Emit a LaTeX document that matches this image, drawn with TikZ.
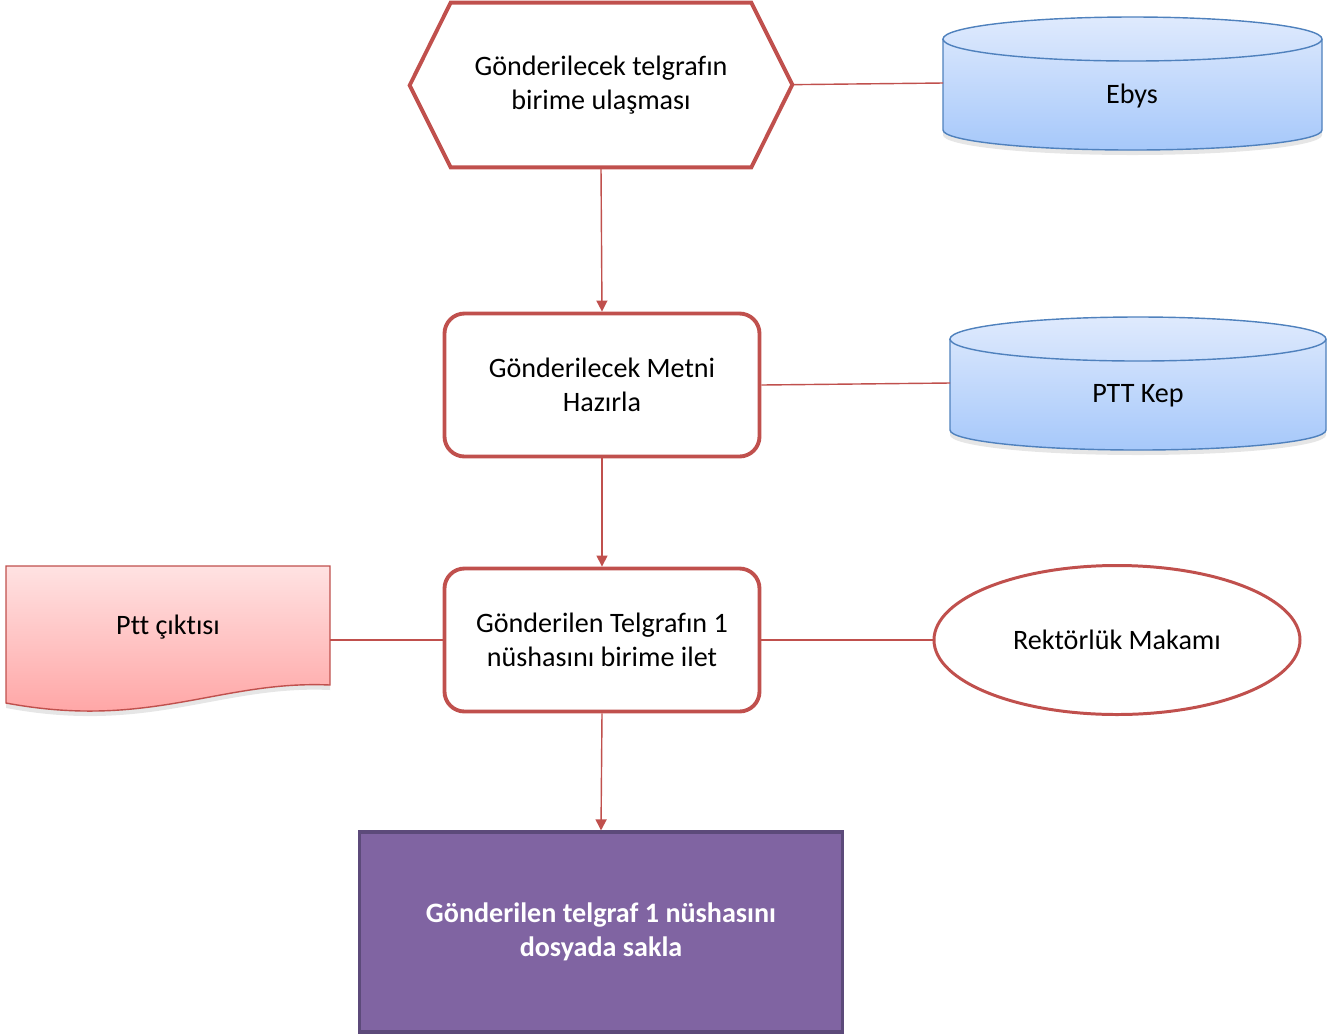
\documentclass[tikz,border=0pt]{standalone}
\usepackage{fontspec}
\setmainfont{Carlito}[Ligatures=NoCommon]
\usetikzlibrary{shapes.geometric,arrows.meta,shadows}
\definecolor{kirmizi}{HTML}{C0504D}
\definecolor{mavi}{HTML}{4F81BD}
\definecolor{maviust}{HTML}{DFEAFD}
\definecolor{mavialt}{HTML}{A6C8FA}
\definecolor{pembeust}{HTML}{FFE2E2}
\definecolor{pembealt}{HTML}{FF9F9F}
\definecolor{mor}{HTML}{8064A2}
\definecolor{morkenar}{HTML}{5C4A7A}
\tikzset{
  adim/.style={draw=kirmizi,line width=2.2pt,rounded corners=4mm,fill=white,
    minimum width=63mm,minimum height=28.6mm,align=center},
  link/.style={draw=kirmizi,line width=0.8pt},
  ok/.style={link,-{Triangle[width=2.2mm,length=2.2mm]}},
  silindir/.style={draw=mavi,line width=0.8pt,top color=maviust,bottom color=mavialt,
    drop shadow={shadow xshift=0mm,shadow yshift=-1mm,opacity=0.2}},
  yazi/.style={font=\fontsize{16}{19.5}\selectfont,align=center}
}
\begin{document}
\begin{tikzpicture}[x=0.2mm,y=-0.2mm,yazi]
\useasboundingbox (0,0) rectangle (1336,1034);

% baslangic
\node[yazi,minimum width=60mm,minimum height=32.8mm] (baslangic) at (601,85) {Gönderilecek telgrafın\\birime ulaşması};
\draw[kirmizi,line width=2.2pt,line join=miter]
  (baslangic.north west) -- (baslangic.north east) -- ++(41,82) coordinate (basSag)
  -- (baslangic.south east) -- (baslangic.south west) -- ++(-41,-82) -- cycle;

% veritabanlari
\path[silindir] (943,39) -- (943,130) arc[start angle=180,end angle=360,x radius=37.9mm,y radius=4mm]
  -- (1322,39) arc[start angle=0,end angle=180,x radius=37.9mm,y radius=4.4mm] -- cycle;
\draw[mavi,line width=0.8pt] (943,39) arc[start angle=180,end angle=360,x radius=37.9mm,y radius=4.4mm];
\node (ebys) at (1132,96) {Ebys};
\coordinate (ebysSol) at (943,83);

\path[silindir] (950,339) -- (950,430) arc[start angle=180,end angle=360,x radius=37.6mm,y radius=4mm]
  -- (1326,339) arc[start angle=0,end angle=180,x radius=37.6mm,y radius=4.4mm] -- cycle;
\draw[mavi,line width=0.8pt] (950,339) arc[start angle=180,end angle=360,x radius=37.6mm,y radius=4.4mm];
\node (kep) at (1138,396) {PTT Kep};
\coordinate (kepSol) at (950,383);

% adimlar
\node[adim] (metin) at (602,385) {Gönderilecek Metni\\Hazırla};
\node[adim] (ilet) at (602,640) {Gönderilen Telgrafın 1\\nüshasını birime ilet};
\node[draw=morkenar,line width=1.8pt,fill=mor,text=white,font=\fontsize{16}{19.5}\selectfont\bfseries,
  minimum width=96.6mm,minimum height=40mm] (sakla) at (601,932) {Gönderilen telgraf 1 nüshasını\\dosyada sakla};

% belge
\path[draw=kirmizi,line width=0.8pt,top color=pembeust,bottom color=pembealt,
  drop shadow={shadow xshift=0mm,shadow yshift=-1mm,opacity=0.2}]
  (6,566) -- (330,566) -- (330,685) .. controls (220,680) and (150,730) .. (6,703) -- cycle;
\node (cikti) at (168,627) {Ptt çıktısı};
\coordinate (ciktiSag) at (330,640);

% makam
\node[ellipse,draw=kirmizi,line width=1.7pt,minimum width=73.2mm,minimum height=29.8mm] (makam) at (1117,640) {Rektörlük Makamı};

% baglantilar
\draw[link] (basSag) -- (ebysSol);
\draw[link] (metin.east) -- (kepSol);
\draw[link] (ilet.west) -- (ciktiSag);
\draw[link] (ilet.east) -- (makam.west);
\draw[ok] (baslangic.south) -- (metin.north);
\draw[ok] (metin.south) -- (ilet.north);
\draw[ok] (ilet.south) -- (sakla.north);

\end{tikzpicture}
\end{document}
